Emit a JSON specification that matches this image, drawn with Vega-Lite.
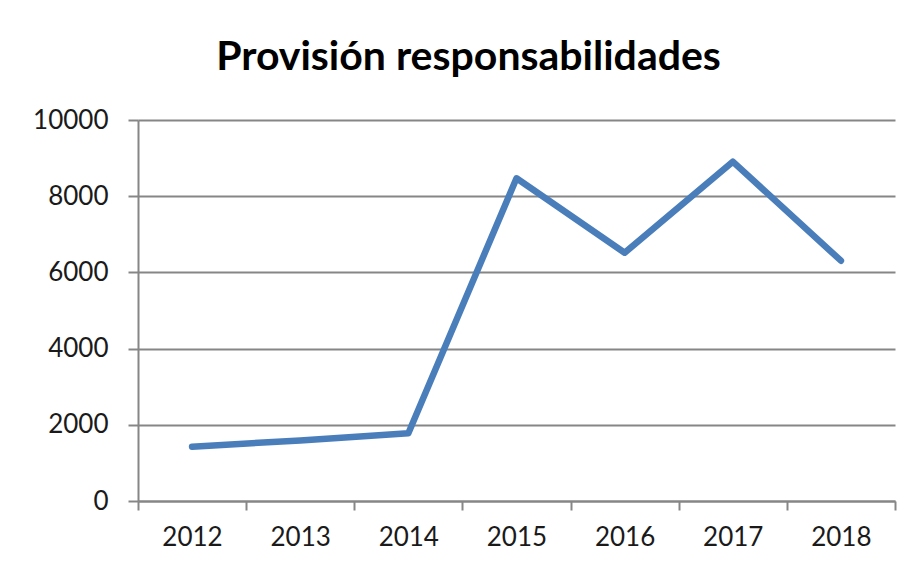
{
  "$schema": "https://vega.github.io/schema/vega-lite/v6.json",
  "width": 757,
  "height": 381,
  "autosize": "none",
  "padding": {"left": 138, "top": 120, "right": 22, "bottom": 68},
  "background": "white",
  "title": {
    "text": "Provisión responsabilidades",
    "font": "Lato",
    "fontSize": 41,
    "fontWeight": "bold",
    "color": "#000000",
    "anchor": "middle",
    "dx": -48,
    "baseline": "alphabetic",
    "offset": -4
  },
  "data": {
    "values": [
      {"year": 2012, "value": 1425},
      {"year": 2013, "value": 1590},
      {"year": 2014, "value": 1777},
      {"year": 2015, "value": 8470},
      {"year": 2016, "value": 6517},
      {"year": 2017, "value": 8906},
      {"year": 2018, "value": 6307}
    ]
  },
  "mark": {"type": "line", "color": "#4A7EBB", "strokeWidth": 6.5, "strokeJoin": "round", "strokeCap": "round"},
  "encoding": {
    "x": {
      "field": "year",
      "type": "quantitative",
      "scale": {"domain": [2011.5, 2018.5], "nice": false, "zero": false},
      "axis": {
        "title": null,
        "values": [2011.5, 2012.5, 2013.5, 2014.5, 2015.5, 2016.5, 2017.5, 2018.5],
        "labelExpr": "datum.value < 2018 ? format(datum.value + 0.5, 'd') : ''",
        "labelOffset": 54,
        "labelOverlap": false,
        "labelFlush": false,
        "labelBound": false,
        "grid": false,
        "tickSize": 9,
        "tickWidth": 2,
        "tickColor": "#868686",
        "domainColor": "#868686",
        "domainWidth": 2,
        "labelFont": "Lato",
        "labelFontSize": 26,
        "labelColor": "#1a1a1a",
        "labelPadding": 14
      }
    },
    "y": {
      "field": "value",
      "type": "quantitative",
      "scale": {"domain": [0, 10000], "nice": false},
      "axis": {
        "title": null,
        "values": [0, 2000, 4000, 6000, 8000, 10000],
        "format": "d",
        "grid": true,
        "gridColor": "#868686",
        "gridWidth": 2,
        "gridOpacity": 1,
        "tickSize": 10,
        "tickWidth": 2,
        "tickColor": "#868686",
        "domainColor": "#868686",
        "domainWidth": 2,
        "labelFont": "Lato",
        "labelFontSize": 26,
        "labelColor": "#1a1a1a",
        "labelPadding": 20
      }
    }
  },
  "config": {"view": {"stroke": null}}
}
